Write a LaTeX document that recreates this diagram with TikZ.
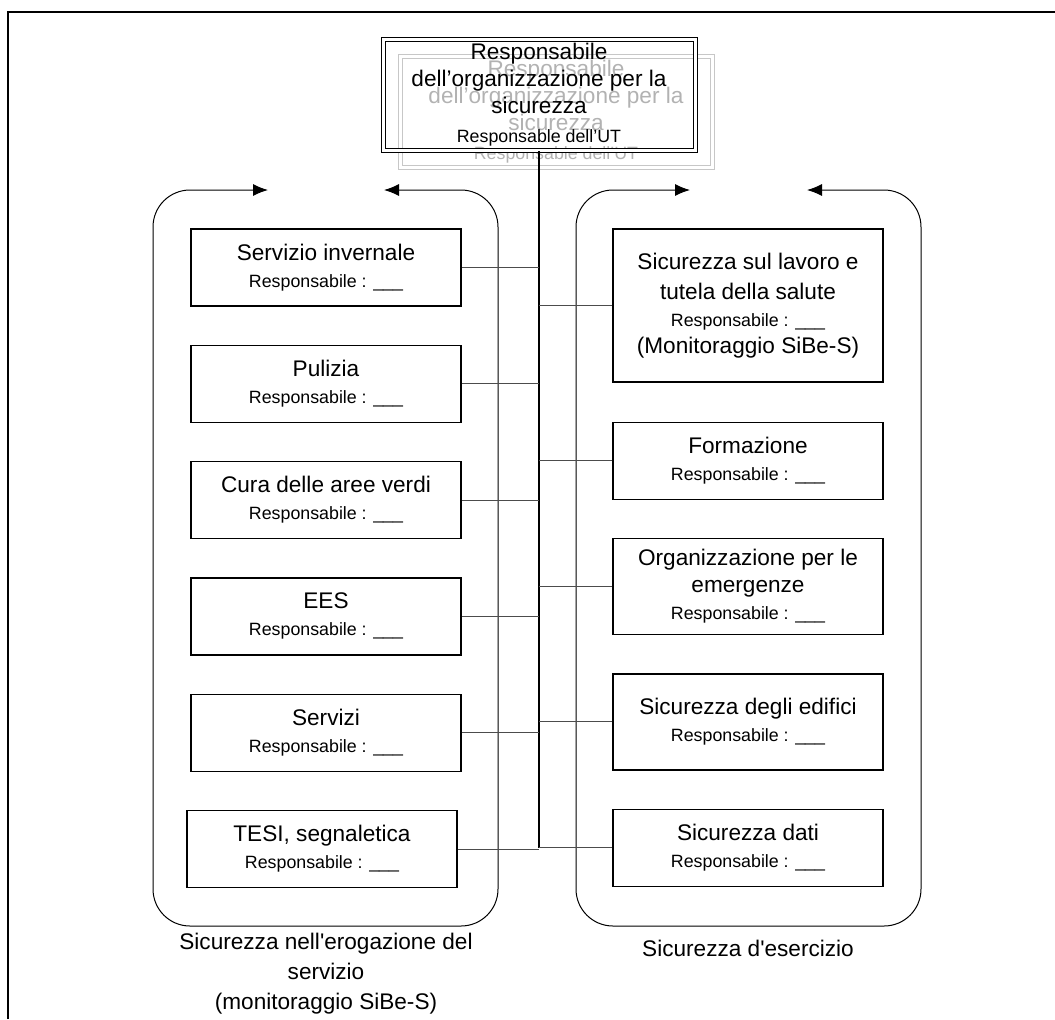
\documentclass[tikz,border=0pt]{standalone}
\usepackage{fontspec}
\setmainfont{Liberation Sans}
\usepackage{tikz}
\usetikzlibrary{
    arrows.meta,
    positioning
}
\newcommand{\mainsize}{\fontsize{11.3}{13.5}\selectfont}
\newcommand{\respsize}{\fontsize{8.9}{10}\selectfont}
\newcommand{\resp}{{\respsize Responsabile : \_\_\_}}
\tikzset{
    unitbox/.style={
        draw,
        line width=0.65pt,
        minimum width=135pt,
        minimum height=38.5pt,
        inner sep=2pt,
        align=center,
        font=\mainsize
    }
}
\tikzset{
    headbox/.style={
        draw,
        double,
        double distance=1.5pt,
        line width=0.5pt,
        minimum width=156pt,
        minimum height=55.5pt,
        inner sep=1pt,
        align=center,
        font=\mainsize
    }
}
\tikzset{
    area/.style={
        draw,
        line width=0.5pt,
        rounded corners=18.5pt,
        <->,
        >={Latex[length=7.5pt,width=6pt]}
    }
}
\tikzset{
    link/.style={
        draw=black!70,
        line width=0.5pt
    }
}
\tikzset{
    caption/.style={
        align=center,
        font=\fontsize{11.3}{15}\selectfont
    }
}

\begin{document}
\begin{tikzpicture}[
    x=0.5pt,
    y=-0.5pt
]
\useasboundingbox (0,0) rectangle (1055,1019);

% ------------------------------------------------------------
% Frame
% ------------------------------------------------------------

\draw[line width=1pt] (8,1019) -- (8,12) -- (1055,12);

% ------------------------------------------------------------
% Head of the organization
% ------------------------------------------------------------

\node[headbox, draw=black!22, text=black!30] (capoombra) at (556,112)
    {Responsabile\\dell’organizzazione per la\\sicurezza\\[1pt]{\respsize Responsable dell’UT}};

\node[headbox] (capo) at (539,95)
    {Responsabile\\dell’organizzazione per la\\sicurezza\\[1pt]{\respsize Responsable dell’UT}};

% ------------------------------------------------------------
% Groups
% ------------------------------------------------------------

\draw[area] (268,190) -- (153,190) -- (153,926) -- (498,926) -- (498,190) -- (384,190);
\draw[area] (690,190) -- (576,190) -- (576,926) -- (921,926) -- (921,190) -- (807,190);

\node[caption] (erogazione) at (326,974)
    {Sicurezza nell\textquotesingle erogazione del\\servizio\\(monitoraggio SiBe-S)};

\node[caption] (esercizio) at (748,948)
    {Sicurezza d\textquotesingle esercizio};

% ------------------------------------------------------------
% Service delivery units
% ------------------------------------------------------------

\node[unitbox] (inverno) at (326,267.5) {Servizio invernale\\\resp};
\node[unitbox, below=19pt of inverno] (pulizia) {Pulizia\\\resp};
\node[unitbox, below=19pt of pulizia] (aree) {Cura delle aree verdi\\\resp};
\node[unitbox, below=19pt of aree] (ees) {EES\\\resp};
\node[unitbox, below=19pt of ees] (servizi) {Servizi\\\resp};
\node[unitbox, below=19pt of servizi, xshift=-2pt] (tesi) {TESI, segnaletica\\\resp};

% ------------------------------------------------------------
% Operational units
% ------------------------------------------------------------

\node[unitbox, minimum height=76.5pt] (lavoro) at (748,305.5)
    {Sicurezza sul lavoro e\\[1.5pt]tutela della salute\\\resp\\(Monitoraggio SiBe-S)};
\node[unitbox, below=19.5pt of lavoro] (formazione) {Formazione\\\resp};
\node[unitbox, below=19pt of formazione, minimum height=48pt] (emergenze)
    {Organizzazione per le\\emergenze\\\resp};
\node[unitbox, below=19pt of emergenze, minimum height=48pt] (edifici)
    {Sicurezza degli edifici\\\resp};
\node[unitbox, below=19pt of edifici] (dati) {Sicurezza dati\\\resp};

% ------------------------------------------------------------
% Trunk and branches
% ------------------------------------------------------------

\draw[line width=0.75pt] (capo.south) -- (capo.south |- dati.west);

\foreach \unit in {inverno, pulizia, aree, ees, servizi, tesi}
    \draw[link] (\unit.east) -- (\unit.east -| capo.south);

\foreach \unit in {lavoro, formazione, emergenze, edifici, dati}
    \draw[link] (\unit.west) -- (\unit.west -| capo.south);

\end{tikzpicture}
\end{document}
